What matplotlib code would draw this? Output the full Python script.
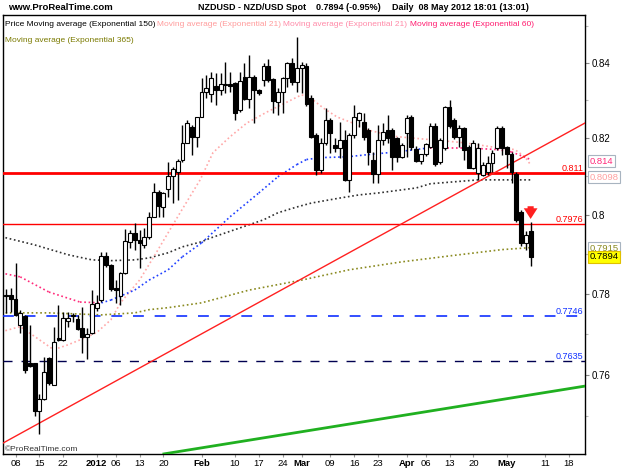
import numpy as np
import pandas as pd
import matplotlib
matplotlib.use('Agg')
import matplotlib.pyplot as plt
from matplotlib.patches import Rectangle
from matplotlib.ticker import FixedLocator, NullFormatter

plt.rcParams['font.family'] = ['Liberation Sans', 'DejaVu Sans']

# ---------------- data ----------------
dates = pd.bdate_range('2011-12-06', '2012-05-08')

opens = [0.7798, 0.7798, 0.7788, 0.7723, 0.7746, 0.7629, 0.7629, 0.7513, 0.7542, 0.7642,
         0.7575, 0.7690, 0.7686, 0.7733, 0.7745, 0.7738, 0.7716, 0.7694, 0.7703, 0.7764,
         0.7785, 0.7896, 0.7873, 0.7815, 0.7795, 0.7853, 0.7931, 0.7955, 0.7937, 0.7924,
         0.7944, 0.7996, 0.8060, 0.8021, 0.8068, 0.8100, 0.8112, 0.8142, 0.8187, 0.8230,
         0.8203, 0.8256, 0.8323, 0.8318, 0.8339, 0.8328, 0.8342, 0.8344, 0.8347, 0.8275,
         0.8363, 0.8304, 0.8363, 0.8328, 0.8355, 0.8392, 0.8358, 0.8296, 0.8323, 0.8360,
         0.8400, 0.8350, 0.8387, 0.8392, 0.8307, 0.8208, 0.8117, 0.8187, 0.8248, 0.8182,
         0.8174, 0.8195, 0.8091, 0.8208, 0.8248, 0.8243, 0.8221, 0.8142, 0.8107, 0.8195,
         0.8221, 0.8221, 0.8200, 0.8150, 0.8214, 0.8256, 0.8172, 0.8140, 0.8159, 0.8177,
         0.8232, 0.8137, 0.8174, 0.8282, 0.8248, 0.8203, 0.8227, 0.8177, 0.8122, 0.8109,
         0.8104, 0.8112, 0.8135, 0.8174, 0.8227, 0.8177, 0.8159, 0.8106, 0.8008, 0.7929,
         0.7960]
highs = [0.7812, 0.7815, 0.7877, 0.7761, 0.7748, 0.7723, 0.7629, 0.7555, 0.7644, 0.7644,
         0.7718, 0.7773, 0.7756, 0.7756, 0.7752, 0.7748, 0.7768, 0.7716, 0.7810, 0.7798,
         0.7906, 0.7906, 0.7876, 0.7835, 0.7855, 0.7965, 0.7963, 0.7981, 0.7963, 0.7968,
         0.8008, 0.8083, 0.8065, 0.8060, 0.8137, 0.8125, 0.8145, 0.8235, 0.8248, 0.8235,
         0.8256, 0.8360, 0.8368, 0.8376, 0.8374, 0.8374, 0.8403, 0.8376, 0.8350, 0.8376,
         0.8400, 0.8421, 0.8368, 0.8331, 0.8400, 0.8410, 0.8360, 0.8334, 0.8363, 0.8403,
         0.8414, 0.8470, 0.8403, 0.8400, 0.8315, 0.8213, 0.8200, 0.8280, 0.8253, 0.8200,
         0.8243, 0.8221, 0.8213, 0.8287, 0.8270, 0.8266, 0.8226, 0.8164, 0.8234, 0.8240,
         0.8260, 0.8226, 0.8203, 0.8188, 0.8261, 0.8261, 0.8180, 0.8159, 0.8187, 0.8240,
         0.8240, 0.8200, 0.8284, 0.8301, 0.8253, 0.8235, 0.8230, 0.8182, 0.8195, 0.8187,
         0.8137, 0.8153, 0.8169, 0.8232, 0.8232, 0.8180, 0.8164, 0.8112, 0.8013, 0.7960,
         0.7983]
lows = [0.7753, 0.7756, 0.7745, 0.7703, 0.7605, 0.7620, 0.7500, 0.7458, 0.7540, 0.7575,
        0.7575, 0.7684, 0.7684, 0.7718, 0.7730, 0.7711, 0.7654, 0.7640, 0.7700, 0.7758,
        0.7780, 0.7868, 0.7808, 0.7778, 0.7773, 0.7850, 0.7916, 0.7911, 0.7865, 0.7916,
        0.7940, 0.7994, 0.7996, 0.7996, 0.8047, 0.8030, 0.8039, 0.8137, 0.8187, 0.8155,
        0.8177, 0.8256, 0.8307, 0.8296, 0.8288, 0.8315, 0.8320, 0.8323, 0.8248, 0.8270,
        0.8301, 0.8280, 0.8240, 0.8315, 0.8339, 0.8350, 0.8267, 0.8262, 0.8267, 0.8336,
        0.8342, 0.8323, 0.8320, 0.8285, 0.8200, 0.8104, 0.8109, 0.8182, 0.8161, 0.8164,
        0.8148, 0.8088, 0.8060, 0.8200, 0.8230, 0.8195, 0.8130, 0.8083, 0.8083, 0.8182,
        0.8187, 0.8117, 0.8137, 0.8149, 0.8151, 0.8169, 0.8137, 0.8132, 0.8154, 0.8174,
        0.8127, 0.8132, 0.8169, 0.8227, 0.8198, 0.8177, 0.8143, 0.8122, 0.8119, 0.8091,
        0.8101, 0.8104, 0.8112, 0.8169, 0.8156, 0.8122, 0.8083, 0.7983, 0.7922, 0.7911,
        0.7870]
closes = [0.7796, 0.7788, 0.7748, 0.7753, 0.7612, 0.7622, 0.7513, 0.7542, 0.7607, 0.7580,
          0.7681, 0.7686, 0.7741, 0.7741, 0.7748, 0.7713, 0.7693, 0.7701, 0.7776, 0.7778,
          0.7896, 0.7873, 0.7813, 0.7810, 0.7853, 0.7934, 0.7955, 0.7937, 0.7929, 0.7944,
          0.7996, 0.8060, 0.8023, 0.8057, 0.8102, 0.8118, 0.8140, 0.8187, 0.8240, 0.8203,
          0.8256, 0.8323, 0.8334, 0.8360, 0.8328, 0.8344, 0.8345, 0.8339, 0.8267, 0.8352,
          0.8304, 0.8363, 0.8328, 0.8320, 0.8392, 0.8355, 0.8299, 0.8323, 0.8360, 0.8400,
          0.8350, 0.8387, 0.8395, 0.8291, 0.8203, 0.8117, 0.8187, 0.8248, 0.8214, 0.8174,
          0.8195, 0.8091, 0.8208, 0.8256, 0.8266, 0.8203, 0.8164, 0.8107, 0.8195, 0.8216,
          0.8200, 0.8150, 0.8150, 0.8182, 0.8253, 0.8177, 0.8140, 0.8159, 0.8185, 0.8232,
          0.8132, 0.8195, 0.8282, 0.8232, 0.8203, 0.8227, 0.8169, 0.8122, 0.8187, 0.8174,
          0.8130, 0.8135, 0.8161, 0.8227, 0.8174, 0.8159, 0.8112, 0.7988, 0.7929, 0.7950,
          0.7894]

# moving averages (bar index, value)
ema21_idx = [-1, 3, 10, 13, 15.5, 19, 22, 24, 28, 31, 34, 36.5, 40.7, 43.4, 47, 50.5, 54.7,
             59, 62, 64.4, 66.5, 69.4, 72.7, 75.7, 78.4, 82, 89, 96, 103, 106.7, 108.8, 110]
ema21_val = [0.7706, 0.7719, 0.7662, 0.7674, 0.7686, 0.7704, 0.7736, 0.7778, 0.7835, 0.7894,
             0.7955, 0.8006, 0.8091, 0.8162, 0.8204, 0.8240, 0.8269, 0.8296, 0.8315, 0.8301,
             0.8280, 0.8256, 0.8240, 0.8222, 0.8214, 0.8204, 0.8196, 0.8188, 0.8175, 0.8170,
             0.8151, 0.8130]
ema60_idx = [-1, 3, 9, 15.5, 20, 22, 27, 30, 34, 37, 41, 47, 53, 57, 61, 63, 66, 71.5, 76,
             82, 89, 96, 103, 106, 110]
ema60_val = [0.7853, 0.7843, 0.7805, 0.7780, 0.7778, 0.7785, 0.7810, 0.7835, 0.7861, 0.7894,
             0.7929, 0.7996, 0.8057, 0.8099, 0.8131, 0.8144, 0.8149, 0.8151, 0.8157, 0.8164,
             0.8175, 0.8175, 0.8170, 0.8164, 0.8144]
ema150_idx = [-1, 6, 13, 18, 22, 27, 30, 34, 37, 41, 43, 54, 57, 61, 64, 70, 74, 78, 86, 89,
              99, 110]
ema150_val = [0.7945, 0.7924, 0.7899, 0.7886, 0.7884, 0.7886, 0.7891, 0.7904, 0.7919, 0.7932,
              0.7942, 0.7988, 0.8006, 0.8021, 0.8031, 0.8044, 0.8052, 0.8057, 0.8070, 0.8081,
              0.8091, 0.8091]
ema365_idx = [-1, 9, 20, 27, 30, 34, 41, 51, 62, 72, 83, 93, 104, 110]
ema365_val = [0.7753, 0.7753, 0.7748, 0.7753, 0.7761, 0.7766, 0.7778, 0.7810, 0.7835, 0.7861,
              0.7881, 0.7896, 0.7912, 0.7917]

# trend lines (bar index, price)
red_trend_idx = [-0.6, 121.4]
red_trend_val = [0.7436, 0.8240]
green_trend_idx = [33.1, 121.4]
green_trend_val = [0.7410, 0.7573]

# horizontal levels
level_red_thick = 0.811
level_red_thin = 0.7976
level_blue = 0.7746
level_blue2 = 0.7635

# last values boxes
last_ema60 = 0.814
last_ema21 = 0.8098
last_ema365 = 0.7915
last_close = 0.7894

tick_dates = ['2011-12-08', '2011-12-15', '2011-12-22', '2012-01-02', '2012-01-06',
              '2012-01-13', '2012-01-20', '2012-02-01', '2012-02-10', '2012-02-17',
              '2012-02-24', '2012-03-01', '2012-03-09', '2012-03-16', '2012-03-23',
              '2012-04-02', '2012-04-06', '2012-04-13', '2012-04-20', '2012-05-01',
              '2012-05-11', '2012-05-18']
tick_labels = ['08', '15', '22', '2012', '06', '13', '20', 'Feb', '10', '17', '24', 'Mar',
               '09', '16', '23', 'Apr', '06', '13', '20', 'May', '11', '18']
month_labels = {'2012', 'Feb', 'Mar', 'Apr', 'May'}

# ---------------- figure ----------------
W, H = 625, 469
fig = plt.figure(figsize=(W / 100, H / 100), dpi=100)
fig.patch.set_facecolor('white')

def fx(px):
    return px / W

def fy(py):
    return 1 - py / H

ax = fig.add_axes([fx(3), fy(454), fx(585) - fx(3), fy(15) - fy(454)])
ax.set_yscale('log')
ax.set_xlim(-0.63, 121.4)
ax.set_ylim(0.74098, 0.85305)

for s in ax.spines.values():
    s.set_color('black')
    s.set_linewidth(1)

# moving averages (dotted)
dot = (0, (1, 1.6))
ax.plot(ema365_idx, ema365_val, color='#8a8a20', lw=1.2, ls=dot, zorder=2)
ax.plot(ema150_idx, ema150_val, color='#303030', lw=1.2, ls=dot, zorder=2)
ax.plot(ema21_idx, ema21_val, color='#ffa8a8', lw=1.2, ls=dot, zorder=2)
for i in range(len(ema60_idx) - 1):
    col = '#2040ff' if ema60_val[i + 1] > ema60_val[i] else '#ff2a7a'
    ax.plot(ema60_idx[i:i + 2], ema60_val[i:i + 2], color=col, lw=1.2, ls=dot, zorder=2)

# horizontal levels
ax.axhline(level_red_thick, color='#ff0000', lw=2, zorder=3)
ax.axhline(level_red_thin, color='#ff0000', lw=1, zorder=3)
ax.axhline(level_blue, color='#1030ff', lw=1.2, dashes=(6.5, 6.5), zorder=3)
ax.axhline(level_blue2, color='#000050', lw=1.0, dashes=(6.5, 6.5), zorder=3)

# trend lines
ax.plot(red_trend_idx, red_trend_val, color='#ff2020', lw=1, zorder=3)
ax.plot(green_trend_idx, green_trend_val, color='#20b020', lw=2, zorder=3)

# candles
x = np.arange(len(dates))
bw = 0.8
for xi, o, h, l, c in zip(x, opens, highs, lows, closes):
    ax.plot([xi, xi], [l, h], color='black', lw=1, zorder=4, solid_capstyle='butt')
    up = c >= o
    lo, hi = (o, c) if up else (c, o)
    ax.add_patch(Rectangle((xi - bw / 2, lo), bw, max(hi - lo, 0.00005),
                           facecolor='white' if up else 'black', edgecolor='black',
                           lw=0.8, zorder=5))

# level labels
tx = 121.0
ax.text(tx, level_red_thick, '0.811', color='#ff0000', fontsize=6.5, ha='right', va='bottom')
ax.text(tx, level_red_thin, '0.7976', color='#ff0000', fontsize=6.5, ha='right', va='bottom')
ax.text(tx, level_blue, '0.7746', color='#1030ff', fontsize=6.5, ha='right', va='bottom')
ax.text(tx, level_blue2, '0.7635', color='#1030ff', fontsize=6.5, ha='right', va='bottom')

# red arrow above last candle
ax.annotate('', xy=(x[-1], 0.7983), xytext=(x[-1], 0.8030),
            arrowprops=dict(arrowstyle='simple,head_width=0.9,head_length=0.7,tail_width=0.4',
                            color='#ff2020', lw=0, mutation_scale=11), zorder=6)

# axes ticks
full_dates = pd.bdate_range('2011-12-06', '2012-05-31')
tick_pos = full_dates.get_indexer(pd.to_datetime(tick_dates))
ax.set_xticks(tick_pos)
ax.set_xticklabels(tick_labels)
for lab in ax.get_xticklabels():
    if lab.get_text() in month_labels:
        lab.set_fontweight('bold')
ax.tick_params(axis='x', direction='out', length=2.5, width=0.8, color='#999999',
               labelsize=6.8, pad=0.8)

ax.yaxis.tick_right()
ax.yaxis.set_major_locator(FixedLocator([0.76, 0.78, 0.80, 0.82, 0.84]))
ax.yaxis.set_minor_locator(FixedLocator([0.75, 0.77, 0.79, 0.81, 0.83, 0.85]))
ax.yaxis.set_major_formatter(plt.FuncFormatter(lambda v, p: ('%.2f' % v).rstrip('0')))
ax.yaxis.set_minor_formatter(NullFormatter())
ax.tick_params(axis='y', which='major', direction='out', length=3, width=0.8,
               color='#888888', labelsize=7, pad=1.5)
ax.tick_params(axis='y', which='minor', direction='out', length=2, width=0.8,
               color='#bbbbbb')

# last-value boxes at right
def box(val, txt, col, fc='white', ec='#a8b4c0'):
    ax.text(1.008, val, txt, transform=ax.get_yaxis_transform(), color=col,
            fontsize=6.8, ha='left', va='center',
            bbox=dict(boxstyle='square,pad=0.18', fc=fc, ec=ec, lw=0.8), zorder=10,
            clip_on=False)

box(last_ema60, '0.814', '#ff2a7a')
box(last_ema21, '0.8098', '#ffa0a0')
box(last_ema365, '0.7915', '#8a8a20')
box(last_close, '0.7894', 'black', fc='#ffff00', ec='#e0c000')

# header texts
fig.text(fx(8), fy(8), 'www.ProRealTime.com', fontsize=6.8, fontweight='bold', va='center')
fig.text(fx(198), fy(8), 'NZDUSD - NZD/USD Spot', fontsize=6.5, fontweight='bold', va='center')
fig.text(fx(316), fy(8), '0.7894 (-0.95%)', fontsize=6.5, fontweight='bold', va='center')
fig.text(fx(392), fy(8), 'Daily  08 May 2012 18:01 (13:01)', fontsize=6.5, fontweight='bold',
         va='center')

# indicator legend
legend_rows = [
    [(5, 'Price Moving average (Exponential 150)', 'black'),
     (157, 'Moving average (Exponential 21)', '#ff9c9c'),
     (283, 'Moving average (Exponential 21)', '#ff8aa8'),
     (410, 'Moving average (Exponential 60)', '#ff1a6e')],
    [(5, 'Moving average (Exponential 365)', '#7a7a00')],
]
for row, ypx in zip(legend_rows, [25, 41]):
    for xpx, txt, col in row:
        fig.text(fx(xpx), fy(ypx), txt, color=col, fontsize=6.0, va='center')

fig.text(fx(5), fy(449), '\u00a9ProRealTime.com', fontsize=6.0, va='center', color='#333333')

fig.savefig('out.png', dpi=100)
